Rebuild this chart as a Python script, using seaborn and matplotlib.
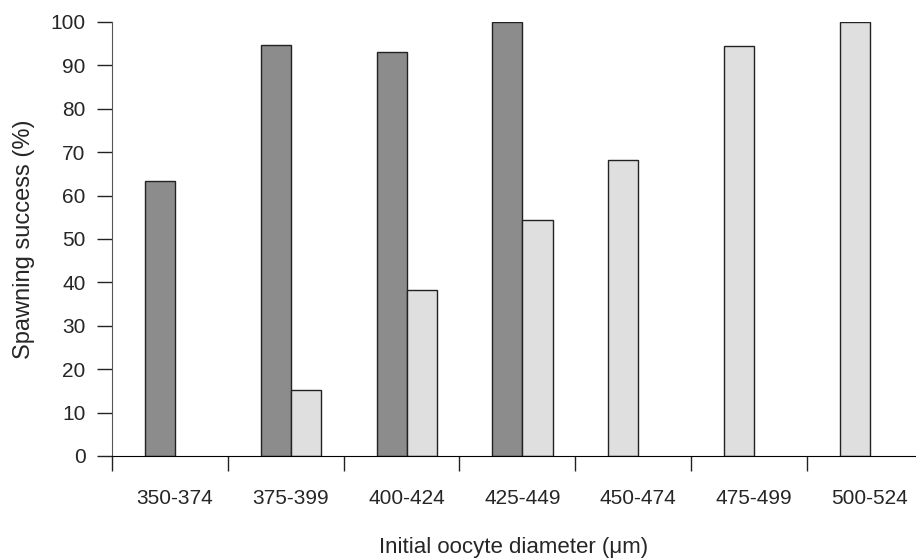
import numpy as np
import pandas as pd
import matplotlib
matplotlib.use('Agg')
import matplotlib.pyplot as plt
import seaborn as sns

# dados
categories = ['350-374', '375-399', '400-424', '425-449', '450-474', '475-499', '500-524']
dark_vals = [63.4, 94.6, 93.0, 100.0, np.nan, np.nan, np.nan]
light_vals = [np.nan, 15.2, 38.2, 54.4, 68.3, 94.5, 100.0]

sns.set_style('white')
plt.rcParams['font.family'] = ['Liberation Sans', 'DejaVu Sans']

# posicoes das barras: escura a esquerda do centro, clara a direita (ou no lugar da escura)
half = 0.13
rows = []
for i, cat in enumerate(categories):
    if not np.isnan(dark_vals[i]):
        rows.append({'pos': i - half, 'value': dark_vals[i], 'series': 'dark'})
    if not np.isnan(light_vals[i]):
        pos = i + half if not np.isnan(dark_vals[i]) else i - half
        rows.append({'pos': pos, 'value': light_vals[i], 'series': 'light'})
df = pd.DataFrame(rows)

fig = plt.figure(figsize=(9.16, 5.58), dpi=100)
ax = fig.add_axes([0.1223, 0.1828, 0.8777, 0.7778])

sns.barplot(data=df, x='pos', y='value', hue='series',
            palette={'dark': '#8c8c8c', 'light': '#dfdfdf'},
            native_scale=True, dodge=False, width=1.0,
            edgecolor='#222222', linewidth=1.0, legend=False, ax=ax)

ax.set_xlim(-0.545, 6.4)
ax.set_ylim(0, 100)

ax.set_xticks(range(len(categories)))
ax.set_xticklabels(categories, fontsize=15)
ax.set_xticks([i - 0.545 for i in range(len(categories))], minor=True)
ax.tick_params(axis='x', which='major', bottom=True, length=0, pad=24)
ax.tick_params(axis='x', which='minor', bottom=True, length=11, width=1,
               color='#222222', direction='out')

ax.set_yticks(range(0, 101, 10))
ax.tick_params(axis='y', which='major', left=True, length=11, width=1, color='#222222',
               direction='out', labelsize=15, pad=8)

for s in ['top', 'right']:
    ax.spines[s].set_visible(False)
ax.spines['left'].set_color('#555555')
ax.spines['bottom'].set_color('black')

ax.set_xlabel('Initial oocyte diameter (μm)', fontsize=16, labelpad=21)
ax.set_ylabel('Spawning success (%)', fontsize=17, labelpad=11)

plt.savefig('out.png', dpi=100)
